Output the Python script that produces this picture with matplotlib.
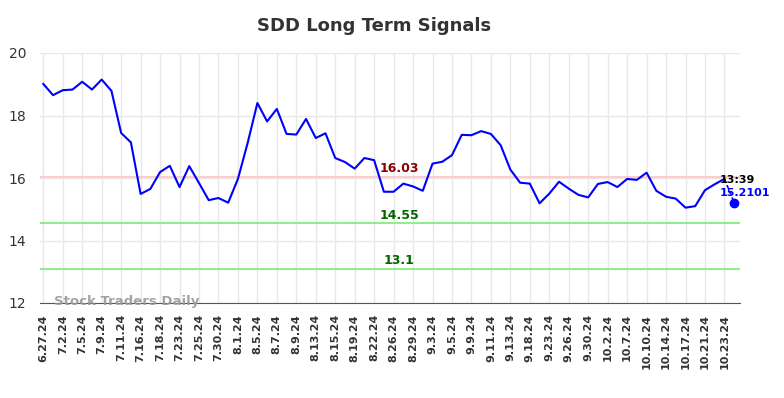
import matplotlib
matplotlib.use("Agg")
import matplotlib.pyplot as plt

title = "SDD Long Term Signals"
tick_labels = ["6.27.24", "7.2.24", "7.5.24", "7.9.24", "7.11.24", "7.16.24", "7.18.24",
               "7.23.24", "7.25.24", "7.30.24", "8.1.24", "8.5.24", "8.7.24", "8.9.24",
               "8.13.24", "8.15.24", "8.19.24", "8.22.24", "8.26.24", "8.29.24", "9.3.24",
               "9.5.24", "9.9.24", "9.11.24", "9.13.24", "9.18.24", "9.23.24", "9.26.24",
               "9.30.24", "10.2.24", "10.7.24", "10.10.24", "10.14.24", "10.17.24",
               "10.21.24", "10.23.24"]
prices = [19.01, 18.65, 18.81, 18.83, 19.08, 18.83, 19.15, 18.79, 17.44, 17.14,
          15.49, 15.65, 16.19, 16.39, 15.71, 16.38, 15.84, 15.29, 15.36, 15.21,
          15.97, 17.12, 18.40, 17.81, 18.21, 17.41, 17.39, 17.89, 17.28, 17.43,
          16.64, 16.51, 16.30, 16.64, 16.57, 15.56, 15.56, 15.82, 15.73, 15.59,
          16.46, 16.52, 16.73, 17.38, 17.37, 17.50, 17.41, 17.05, 16.27, 15.85,
          15.82, 15.19, 15.50, 15.88, 15.66, 15.46, 15.38, 15.81, 15.87, 15.71,
          15.97, 15.94, 16.17, 15.59, 15.40, 15.34, 15.05, 15.10, 15.61, 15.80,
          15.97]
last_price = 15.2101
last_time = "13:39"
resistance = 16.03
support_levels = [14.55, 13.1]

fig = plt.figure(figsize=(7.84, 3.98), dpi=100)
ax = fig.add_axes([40/784, 1 - 303/398, 700/784, 250/398])

n = len(prices)
xs = list(range(n))
ax.plot(xs, prices, color="#0000ff", lw=1.5, zorder=3)
ax.plot([n - 1, n], [prices[-1], last_price], color="#0000ff", lw=1.2, ls=(0, (2, 2)), zorder=3)
ax.plot([n], [last_price], "o", color="#0000ff", ms=6, zorder=4)

ax.axhline(resistance, color="#ffcccc", lw=1.5, zorder=2)
for s in support_levels:
    ax.axhline(s, color="#90ee90", lw=1.5, zorder=2)

mid = 36.6
ax.text(mid, resistance + 0.05, f"{resistance:.2f}", color="#8b0000", fontsize=9,
        fontweight="bold", ha="center", va="bottom")
ax.text(mid, support_levels[0] + 0.05, f"{support_levels[0]:.2f}", color="#006400", fontsize=9,
        fontweight="bold", ha="center", va="bottom")
ax.text(mid, support_levels[1] + 0.05, f"{support_levels[1]:g}", color="#006400", fontsize=9,
        fontweight="bold", ha="center", va="bottom")

ax.text(69.55, 15.94, last_time, color="#000000", fontsize=8, fontweight="bold",
        ha="left", va="center")
ax.text(69.55, 15.52, f"{last_price}", color="#0000ff", fontsize=8, fontweight="bold",
        ha="left", va="center")

ax.text(1.1, 12.06, "Stock Traders Daily", color="#999999", fontsize=9.5, fontweight="bold",
        ha="left", va="center", alpha=0.9)

ax.set_xlim(-0.34, n + 0.6)
ax.set_ylim(12, 20)
ax.set_yticks([12, 14, 16, 18, 20])
ax.set_xticks(list(range(0, n, 2)))
ax.set_xticklabels(tick_labels, rotation=90, fontsize=8, fontweight="bold", color="#333333")
ax.tick_params(axis="y", labelsize=10, colors="#333333", length=0, pad=10)
ax.tick_params(axis="x", length=0, pad=8)
ax.grid(True, color="#e8e8e8", lw=1)
ax.set_axisbelow(True)
for s in ["top", "right", "left"]:
    ax.spines[s].set_visible(False)
ax.spines["bottom"].set_color("#555555")

fig.text(374/784, 1 - 26/398, title, ha="center", va="center", fontsize=13,
         fontweight="bold", color="#333333")

fig.savefig("out.png", dpi=100)
